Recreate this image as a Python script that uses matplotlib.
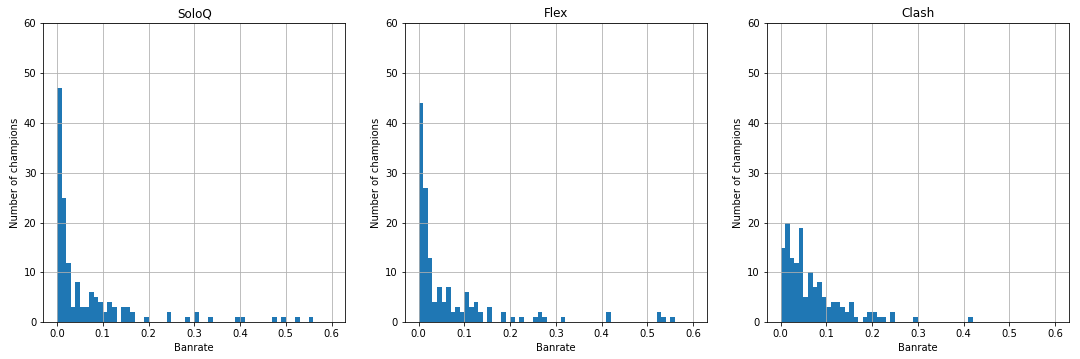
import numpy as np
import matplotlib
matplotlib.use("Agg")
import matplotlib.pyplot as plt

# histogram counts per 0.01-wide banrate bin, from 0.00 up to 0.60
bin_edges = np.round(np.arange(0, 0.61, 0.01), 2)

soloq_counts = [47, 25, 12, 3, 8, 3, 3, 6, 5, 4,
                2, 4, 3, 0, 3, 3, 2, 0, 0, 1,
                0, 0, 0, 0, 2, 0, 0, 0, 1, 0,
                2, 0, 0, 1, 0, 0, 0, 0, 0, 1,
                1, 0, 0, 0, 0, 0, 0, 1, 0, 1,
                0, 0, 1, 0, 0, 1, 0, 0, 0, 0]

flex_counts = [44, 27, 13, 4, 7, 4, 7, 2, 3, 2,
               6, 3, 4, 2, 0, 3, 0, 0, 2, 0,
               1, 0, 1, 0, 0, 1, 2, 1, 0, 0,
               0, 1, 0, 0, 0, 0, 0, 0, 0, 0,
               0, 2, 0, 0, 0, 0, 0, 0, 0, 0,
               0, 0, 2, 1, 0, 1, 0, 0, 0, 0]

clash_counts = [15, 20, 13, 12, 19, 5, 10, 7, 8, 5,
                3, 4, 4, 3, 2, 4, 1, 0, 1, 2,
                2, 1, 1, 0, 2, 0, 0, 0, 0, 1,
                0, 0, 0, 0, 0, 0, 0, 0, 0, 0,
                0, 1, 0, 0, 0, 0, 0, 0, 0, 0,
                0, 0, 0, 0, 0, 0, 0, 0, 0, 0]

titles = ["SoloQ", "Flex", "Clash"]
all_counts = [soloq_counts, flex_counts, clash_counts]

fig = plt.figure(figsize=(15, 359 / 72), dpi=72)
fig.patch.set_facecolor("white")

lefts = [0.0401, 0.375, 0.710]
for left, title, counts in zip(lefts, titles, all_counts):
    ax = fig.add_axes([left, 0.1022, 0.2796, 0.8330])
    ax.hist(bin_edges[:-1], bins=bin_edges, weights=counts, color="#1f77b4")
    ax.set_xlim(-0.03, 0.63)
    ax.set_ylim(0, 60)
    ax.set_xticks(np.arange(0, 0.61, 0.1))
    ax.set_yticks(range(0, 61, 10))
    ax.grid(True)
    ax.set_title(title)
    ax.set_xlabel("Banrate")
    ax.set_ylabel("Number of champions")

fig.savefig("out.png", dpi=72, facecolor="white")
